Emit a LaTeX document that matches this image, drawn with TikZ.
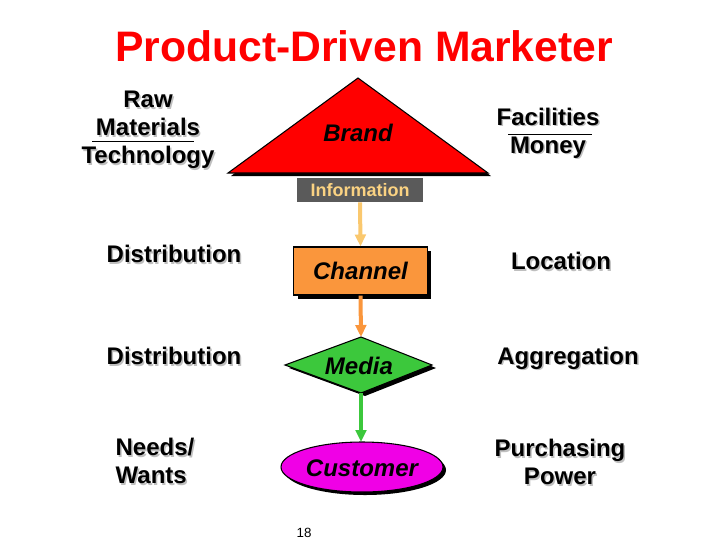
\documentclass[tikz,border=0pt]{standalone}
\usepackage{fontspec}
\setmainfont{Liberation Sans}
\usetikzlibrary{shapes.geometric,arrows.meta,calc}
\definecolor{infobg}{RGB}{90,90,90}
\definecolor{infotx}{RGB}{250,210,130}
\definecolor{chan}{RGB}{250,150,60}
\definecolor{med}{RGB}{60,200,60}
\definecolor{cust}{RGB}{240,0,230}
\definecolor{yarr}{RGB}{250,200,110}
\tikzset{
  lbl/.style={font=\bfseries\fontsize{18}{21}\selectfont, align=center, text=black},
  shd/.style={font=\bfseries\fontsize{18}{21}\selectfont, align=center, text=black!25},
  ilbl/.style={font=\bfseries\itshape\fontsize{18}{21}\selectfont},
  flow/.style={line width=3pt, -{Triangle[width=8pt,length=9pt]}},
}
\newcommand{\slabel}[4][center]{\node[shd,align=#1] at ($(#2,#3)+(1.5,1.5)$) {#4};\node[lbl,align=#1] (#2x#3) at (#2,#3) {#4};}
\begin{document}
\begin{tikzpicture}[x=0.75pt,y=-0.75pt]
\useasboundingbox (0,0) rectangle (720,540);
% title
\node[font=\bfseries\fontsize{32}{38}\selectfont, text=red] (title) at (364,46) {Product-Driven Marketer};
% triangle
\fill[black] (361,81) -- (491,176) -- (231,176) -- cycle;
\draw[fill=red, line width=0.8pt] (358,78) -- (488,173) -- (228,173) -- cycle;
\node[ilbl] (brand) at (358,133) {Brand};
% info
\node[fill=infobg, text=infotx, font=\bfseries\fontsize{13.5}{16}\selectfont, minimum width=94pt, minimum height=18pt, inner sep=0pt] (info) at (360,190) {Information};
% channel
\fill[black] (298,251) rectangle (431,299);
\node[draw, line width=0.8pt, fill=chan, minimum width=100pt, minimum height=36pt, inner sep=0pt, ilbl] (channel) at (360.5,271) {Channel};
% media
\fill[black] (289,368) -- (365,340) -- (436,368) -- (365,396) -- cycle;
\draw[fill=med, line width=0.8pt] (285,365) -- (361,337) -- (432,365) -- (361,393) -- cycle;
\node[ilbl] (media) at (359,366) {Media};
\coordinate (mtop) at (361,337);
\coordinate (mbot) at (361,393);
% customer
\fill[black] (365,470) ellipse [x radius=81, y radius=25];
\draw[fill=cust, line width=0.8pt] (362,467) ellipse [x radius=81, y radius=25];
\node[ilbl] (customer) at (362,468) {Customer};
\coordinate (ctop) at (361,442);
% arrows
\draw[flow, yarr] (info.south) -- (channel.north);
\draw[flow, chan] (channel.south) -- (mtop);
\draw[flow, med] (mbot) -- (ctop);
% side labels
\slabel{148}{130}{Raw\\Materials\\Technology}
\draw[line width=0.7pt] (92,141) -- (194,141);
\slabel{548}{133}{Facilities\\Money}
\draw[line width=0.7pt] (508,134) -- (592,134);
\slabel{174}{254}{Distribution}
\slabel{561}{261}{Location}
\slabel{174}{356}{Distribution}
\slabel{568}{358}{Aggregation}
\slabel[left]{155}{461}{Needs/\\Wants}
\slabel{560}{462}{Purchasing\\Power}
\node[font=\fontsize{10}{12}\selectfont] (num) at (304,533) {18};
\end{tikzpicture}
\end{document}
